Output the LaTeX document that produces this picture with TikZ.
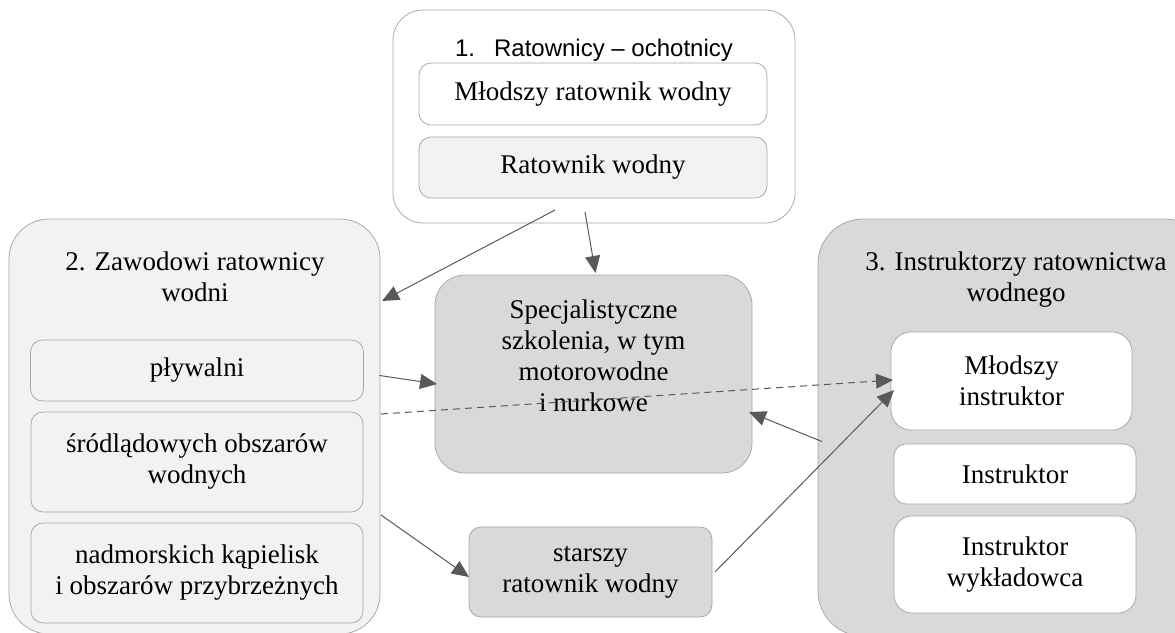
\documentclass[tikz,border=0pt]{standalone}
\usepackage{fontspec}
\setmainfont{Liberation Serif}
\newfontfamily\sansttl{Liberation Sans}
\usepackage{tikz}
\usetikzlibrary{positioning}
\usetikzlibrary{calc,arrows.meta}
\definecolor{mygrayi}{RGB}{217,217,217}
\definecolor{mygrayii}{RGB}{242,242,242}
\definecolor{myline}{RGB}{89,89,89}
\definecolor{myedge}{RGB}{166,166,166}

\begin{document}
\begin{tikzpicture}[x=1pt,y=-1pt,node distance=12pt,outer sep=0pt,
grayb/.style={
  draw=myedge,
  line width=0.75pt,
  fill=white,
  rounded corners=12pt,
  inner sep=0pt,
  align=center,
  %font=\small,
  font={\fontsize{27}{31}\selectfont}},
lightb/.style={grayb,fill=mygrayii},
darkb/.style={grayb,fill=mygrayi},
groupb/.style={grayb,rounded corners=40pt},
ttl/.style={align=center,inner sep=0pt,font={\fontsize{27}{31}\selectfont}},
arr/.style={draw=myline,line width=1pt,-{Triangle[length=17pt,width=15pt]}},
]
\useasboundingbox (0,0) rectangle (1175,632);
% 1. ratownicy - ochotnicy
\node[groupb, rounded corners=30pt, minimum width=402pt, minimum height=213pt] (grpa) at (594,116.5) {};
\node[anchor=base, inner sep=0pt, font={\sansttl\fontsize{24}{29}\selectfont}] (ttla) at (594,56) {1.\hspace{19pt}Ratownicy – ochotnicy};
\node[grayb, minimum width=348pt, minimum height=62pt] (mlr) at (593,94) {Młodszy ratownik wodny};
\node[lightb, minimum width=348pt, minimum height=61pt, below=of mlr] (rw) {Ratownik wodny};
% 2. zawodowi
\node[groupb, fill=mygrayii, minimum width=371pt, minimum height=415pt] (grpb) at (194.5,426.5) {};
\node[ttl] (ttlb) at (195,277) {2. Zawodowi ratownicy\\wodni};
\node[lightb, minimum width=333pt, minimum height=61pt] (plyw) at (197,370.5) {pływalni};
\node[lightb, minimum width=332pt, minimum height=100pt, below=11pt of plyw] (srod) {śródlądowych obszarów\\wodnych};
\node[lightb, minimum width=332pt, minimum height=100pt, below=11pt of srod] (nadm) {nadmorskich kąpielisk\\i obszarów przybrzeżnych};
% 3. instruktorzy
\node[groupb, fill=mygrayi, rounded corners=45pt, minimum width=392pt, minimum height=417pt] (grpc) at (1014,427.5) {};
\node[ttl] (ttlc) at (1016,280) {3. Instruktorzy ratownictwa\\wodnego};
\node[grayb, rounded corners=20pt, minimum width=241pt, minimum height=98pt] (mins) at (1011.5,381) {Młodszy\\instruktor};
\node[grayb, minimum width=242pt, minimum height=60pt, below=14pt of mins, xshift=3.5pt] (ins) {Instruktor};
\node[grayb, rounded corners=18pt, minimum width=242pt, minimum height=97pt, below=12pt of ins] (insw) {Instruktor\\wykładowca};
% szkolenia
\node[darkb, rounded corners=30pt, minimum width=317pt, minimum height=198pt] (spec) at (593.5,374) {};
\node[ttl] (spect) at ($(spec.center)+(0,-18)$) {Specjalistyczne\\szkolenia, w tym\\motorowodne\\i nurkowe};
\node[darkb, minimum width=243pt, minimum height=90pt] (star) at (590.5,572) {starszy\\ratownik wodny};

\draw[arr] ($(rw.south)+(-38,12)$) -- ($(grpb.north east)+(2,82)$);
\draw[arr] ($(rw.south)+(-8,14)$) -- ($(spec.north)+(2,-2)$);
\draw[arr] ($(plyw.east)+(16,5)$) -- ($(spec.west)+(2,10)$);
\draw[arr, dash pattern=on 7pt off 5pt] ($(srod.north east)+(18,2)$) -- ($(mins.west)+(2,-1)$);
\draw[arr] ($(grpc.west)+(4,14)$) -- ($(spec.east)+(-3,38)$);
\draw[arr] ($(srod.south east)+(18,3)$) -- ($(star.west)+(0,5)$);
\draw[arr] ($(star.east)+(3,0)$) -- ($(mins.west)+(3,9)$);
\end{tikzpicture}
\end{document}
